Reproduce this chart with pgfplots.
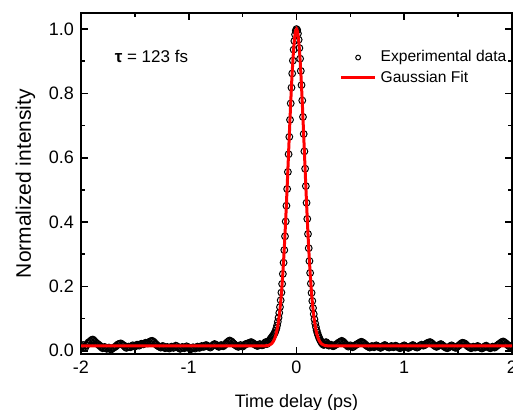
\documentclass[border=0pt]{standalone}
\usepackage{fontspec}
\setmainfont{Liberation Sans}
\usepackage{pgfplots}
\pgfplotsset{compat=1.18}

\begin{document}
\begin{tikzpicture}
\begin{axis}[
    scale only axis,
    width=215.5pt, height=170.5pt,
    xmin=-2, xmax=2, ymin=-0.01, ymax=1.05,
    clip marker paths=true,
    xtick={-2,-1,0,1,2},
    ytick={0,0.2,0.4,0.6,0.8,1.0},
    minor x tick num=1, minor y tick num=1,
    tick align=inside,
    major tick length=3.5pt, minor tick length=2.2pt,
    axis line style={line width=0.8pt},
    every tick/.style={line width=0.8pt, black},
    /pgf/number format/assume math mode=true,
    tick label style={font=\fontsize{9}{10}\selectfont},
    yticklabel style={/pgf/number format/.cd, fixed, fixed zerofill, precision=1},
    xlabel={Time delay (ps)},
    ylabel={Normalized intensity},
    xlabel style={font=\fontsize{9}{10}\selectfont, yshift=-3.5pt},
    ylabel style={font=\fontsize{10.5}{12}\selectfont},
    legend style={draw=none, fill=none, at={(rel axis cs:0.585,0.915)}, anchor=north west,
        font=\fontsize{7.8}{9}\selectfont, row sep=-1pt},
    legend cell align=left,
]
\coordinate (bl) at (rel axis cs:0,0);
\coordinate (tr) at (rel axis cs:1,1);

% measured autocorrelation
\addplot[only marks, mark=o, mark size=1.7pt, mark options={line width=0.5pt, black},
    legend image post style={mark size=1.2pt}] table {
x y
-2.00 0.012
-1.98 0.018
-1.96 0.010
-1.94 0.022
-1.92 0.028
-1.90 0.034
-1.88 0.032
-1.86 0.025
-1.84 0.020
-1.82 0.014
-1.80 0.008
-1.78 0.012
-1.76 0.006
-1.74 0.010
-1.72 0.004
-1.70 0.009
-1.68 0.013
-1.66 0.019
-1.64 0.022
-1.62 0.020
-1.60 0.016
-1.58 0.009
-1.56 0.013
-1.54 0.011
-1.52 0.017
-1.50 0.013
-1.48 0.019
-1.46 0.016
-1.44 0.022
-1.42 0.020
-1.40 0.025
-1.38 0.023
-1.36 0.029
-1.34 0.031
-1.32 0.026
-1.30 0.019
-1.28 0.014
-1.26 0.010
-1.24 0.015
-1.22 0.008
-1.20 0.012
-1.18 0.007
-1.16 0.013
-1.14 0.009
-1.12 0.016
-1.10 0.011
-1.08 0.006
-1.06 0.012
-1.04 0.008
-1.02 0.014
-1.00 0.010
-0.98 0.005
-0.96 0.011
-0.94 0.007
-0.92 0.013
-0.90 0.009
-0.88 0.015
-0.86 0.012
-0.84 0.018
-0.82 0.014
-0.80 0.010
-0.78 0.016
-0.76 0.021
-0.74 0.017
-0.72 0.012
-0.70 0.018
-0.68 0.014
-0.66 0.020
-0.64 0.027
-0.62 0.032
-0.60 0.028
-0.58 0.021
-0.56 0.016
-0.54 0.012
-0.52 0.018
-0.50 0.013
-0.48 0.019
-0.46 0.022
-0.44 0.024
-0.42 0.027
-0.40 0.023
-0.38 0.018
-0.36 0.015
-0.34 0.021
-0.32 0.017
-0.30000 0.020
-0.29333 0.024
-0.28667 0.027
-0.28000 0.025
-0.27333 0.021
-0.26667 0.024
-0.26000 0.028
-0.25333 0.031
-0.24667 0.034
-0.24000 0.037
-0.23333 0.040
-0.22667 0.043
-0.22000 0.046
-0.21333 0.049
-0.20667 0.053
-0.20000 0.057
-0.19333 0.063
-0.18667 0.070
-0.18000 0.079
-0.17333 0.090
-0.16667 0.103
-0.16000 0.118
-0.15333 0.136
-0.14667 0.157
-0.14000 0.181
-0.13333 0.208
-0.12667 0.239
-0.12000 0.274
-0.11333 0.313
-0.10667 0.356
-0.10000 0.402
-0.09333 0.451
-0.08667 0.503
-0.08000 0.556
-0.07333 0.611
-0.06667 0.665
-0.06000 0.718
-0.05333 0.769
-0.04667 0.818
-0.04000 0.862
-0.03333 0.902
-0.02667 0.936
-0.02000 0.963
-0.01333 0.983
-0.00667 0.995
0.00000 1.000
0.00667 0.997
0.01333 0.986
0.02000 0.967
0.02667 0.941
0.03333 0.908
0.04000 0.870
0.04667 0.826
0.05333 0.778
0.06000 0.727
0.06667 0.674
0.07333 0.620
0.08000 0.566
0.08667 0.512
0.09333 0.460
0.10000 0.410
0.10667 0.363
0.11333 0.319
0.12000 0.279
0.12667 0.242
0.13333 0.209
0.14000 0.180
0.14667 0.155
0.15333 0.133
0.16000 0.114
0.16667 0.098
0.17333 0.085
0.18000 0.074
0.18667 0.064
0.19333 0.056
0.20000 0.049
0.20667 0.043
0.21333 0.038
0.22000 0.033
0.22667 0.029
0.23333 0.025
0.24000 0.022
0.24667 0.020
0.25333 0.018
0.26000 0.021
0.26667 0.024
0.27333 0.027
0.28000 0.025
0.28667 0.021
0.29333 0.018
0.30000 0.016
0.32 0.019
0.34 0.014
0.36 0.018
0.38 0.022
0.40 0.027
0.42 0.031
0.44 0.026
0.46 0.019
0.48 0.013
0.50 0.017
0.52 0.011
0.54 0.016
0.56 0.020
0.58 0.024
0.60 0.028
0.62 0.025
0.64 0.019
0.66 0.014
0.68 0.010
0.70 0.015
0.72 0.011
0.74 0.017
0.76 0.013
0.78 0.009
0.80 0.014
0.82 0.018
0.84 0.013
0.86 0.010
0.88 0.015
0.90 0.011
0.92 0.016
0.94 0.012
0.96 0.008
0.98 0.013
1.00 0.017
1.02 0.012
1.04 0.009
1.06 0.014
1.08 0.018
1.10 0.013
1.12 0.010
1.14 0.015
1.16 0.019
1.18 0.016
1.20 0.021
1.22 0.025
1.24 0.027
1.26 0.022
1.28 0.016
1.30 0.012
1.32 0.017
1.34 0.021
1.36 0.016
1.38 0.011
1.40 0.008
1.42 0.013
1.44 0.017
1.46 0.012
1.48 0.009
1.50 0.015
1.52 0.020
1.54 0.025
1.56 0.023
1.58 0.017
1.60 0.012
1.62 0.008
1.64 0.013
1.66 0.010
1.68 0.015
1.70 0.011
1.72 0.007
1.74 0.012
1.76 0.016
1.78 0.011
1.80 0.008
1.82 0.013
1.84 0.010
1.86 0.016
1.88 0.021
1.90 0.026
1.92 0.029
1.94 0.024
1.96 0.018
1.98 0.013
2.00 0.017
-1.99 0.015
-1.97 0.013
-1.95 0.017
-1.93 0.026
-1.91 0.031
-1.89 0.035
-1.87 0.028
-1.85 0.022
-1.83 0.017
-1.81 0.011
-1.79 0.010
-1.77 0.008
-1.75 0.009
-1.73 0.006
-1.71 0.007
-1.69 0.011
-1.67 0.016
-1.65 0.021
-1.63 0.023
-1.61 0.018
-1.59 0.012
-1.57 0.011
-1.55 0.012
-1.53 0.014
-1.51 0.015
-1.49 0.016
-1.47 0.018
-1.45 0.019
-1.43 0.021
-1.41 0.023
-1.39 0.024
-1.37 0.026
-1.35 0.030
-1.33 0.029
-1.31 0.022
-1.29 0.016
-1.27 0.012
-1.25 0.013
-1.23 0.011
-1.21 0.010
-1.19 0.009
-1.17 0.010
-1.15 0.011
-1.13 0.012
-1.11 0.014
-1.09 0.008
-1.07 0.009
-1.05 0.010
-1.03 0.011
-1.01 0.012
-0.99 0.007
-0.97 0.008
-0.95 0.009
-0.93 0.010
-0.91 0.011
-0.89 0.012
-0.87 0.013
-0.85 0.015
-0.83 0.016
-0.81 0.012
-0.79 0.013
-0.77 0.019
-0.75 0.019
-0.73 0.014
-0.71 0.015
-0.69 0.016
-0.67 0.017
-0.65 0.024
-0.63 0.030
-0.61 0.030
-0.59 0.024
-0.57 0.018
-0.55 0.014
-0.53 0.015
-0.51 0.015
-0.49 0.016
-0.47 0.021
-0.45 0.023
-0.43 0.026
-0.41 0.025
-0.39 0.020
-0.37 0.016
-0.35 0.018
-0.33 0.019
-0.31 0.018
0.31 0.018
0.33 0.016
0.35 0.016
0.37 0.020
0.39 0.025
0.41 0.029
0.43 0.029
0.45 0.022
0.47 0.016
0.49 0.015
0.51 0.014
0.53 0.013
0.55 0.018
0.57 0.022
0.59 0.026
0.61 0.027
0.63 0.022
0.65 0.016
0.67 0.012
0.69 0.012
0.71 0.013
0.73 0.014
0.75 0.015
0.77 0.011
0.79 0.011
0.81 0.016
0.83 0.015
0.85 0.011
0.87 0.012
0.89 0.013
0.91 0.013
0.93 0.014
0.95 0.010
0.97 0.010
0.99 0.015
1.01 0.014
1.03 0.010
1.05 0.011
1.07 0.016
1.09 0.015
1.11 0.011
1.13 0.012
1.15 0.017
1.17 0.017
1.19 0.018
1.21 0.023
1.23 0.026
1.25 0.025
1.27 0.019
1.29 0.014
1.31 0.014
1.33 0.019
1.35 0.018
1.37 0.013
1.39 0.009
1.41 0.010
1.43 0.015
1.45 0.014
1.47 0.010
1.49 0.012
1.51 0.017
1.53 0.023
1.55 0.024
1.57 0.020
1.59 0.014
1.61 0.010
1.63 0.010
1.65 0.011
1.67 0.012
1.69 0.013
1.71 0.009
1.73 0.009
1.75 0.014
1.77 0.013
1.79 0.009
1.81 0.010
1.83 0.011
1.85 0.013
1.87 0.018
1.89 0.023
1.91 0.028
1.93 0.026
1.95 0.021
1.97 0.015
1.99 0.015
};
\addlegendentry{Experimental data}

% Gaussian fit
\addplot[red, line width=1.5pt, no marks] table {
x y
-2.00000 0.0150
-0.30000 0.0150
-0.26667 0.0165
-0.26000 0.0170
-0.25333 0.0178
-0.24667 0.0188
-0.24000 0.0201
-0.23333 0.0217
-0.22667 0.0239
-0.22000 0.0267
-0.21333 0.0303
-0.20667 0.0347
-0.20000 0.0403
-0.19333 0.0472
-0.18667 0.0555
-0.18000 0.0657
-0.17333 0.0779
-0.16667 0.0924
-0.16000 0.1095
-0.15333 0.1294
-0.14667 0.1524
-0.14000 0.1787
-0.13333 0.2084
-0.12667 0.2417
-0.12000 0.2786
-0.11333 0.3189
-0.10667 0.3625
-0.10000 0.4093
-0.09333 0.4587
-0.08667 0.5102
-0.08000 0.5632
-0.07333 0.6170
-0.06667 0.6707
-0.06000 0.7234
-0.05333 0.7742
-0.04667 0.8220
-0.04000 0.8658
-0.03333 0.9047
-0.02667 0.9379
-0.02000 0.9646
-0.01333 0.9841
-0.00667 0.9960
0.00000 1.0000
0.00667 0.9960
0.01333 0.9841
0.02000 0.9646
0.02667 0.9379
0.03333 0.9047
0.04000 0.8658
0.04667 0.8220
0.05333 0.7742
0.06000 0.7234
0.06667 0.6707
0.07333 0.6170
0.08000 0.5632
0.08667 0.5102
0.09333 0.4587
0.10000 0.4093
0.10667 0.3625
0.11333 0.3189
0.12000 0.2786
0.12667 0.2417
0.13333 0.2084
0.14000 0.1787
0.14667 0.1524
0.15333 0.1294
0.16000 0.1095
0.16667 0.0924
0.17333 0.0779
0.18000 0.0657
0.18667 0.0555
0.19333 0.0472
0.20000 0.0403
0.20667 0.0347
0.21333 0.0303
0.22000 0.0267
0.22667 0.0239
0.23333 0.0217
0.24000 0.0201
0.24667 0.0188
0.25333 0.0178
0.26000 0.0170
0.26667 0.0165
0.30000 0.0150
2.00000 0.0150
};
\addlegendentry{Gaussian Fit}

\node[anchor=west, font=\fontsize{8.5}{10}\selectfont] at (rel axis cs:0.062,0.874) {\textbf{τ} = 123 fs};
\end{axis}
\pgfresetboundingbox
\path[use as bounding box] ([shift={(-40.5pt,-27.5pt)}]bl) rectangle ([shift={(0.5pt,6.5pt)}]tr);
\end{tikzpicture}
\end{document}
